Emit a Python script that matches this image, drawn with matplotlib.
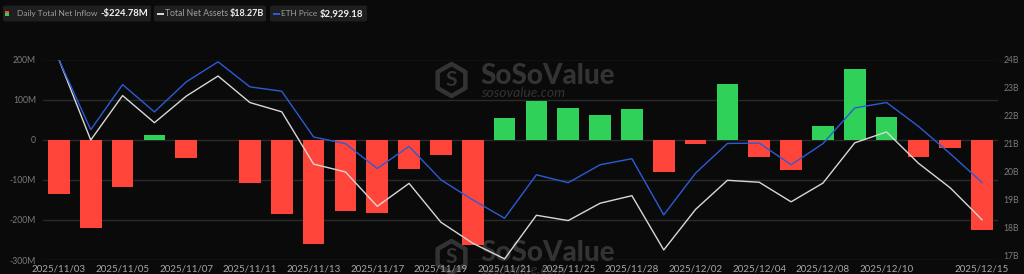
import matplotlib
matplotlib.use("Agg")
import matplotlib.pyplot as plt
from matplotlib.patches import FancyBboxPatch, Rectangle
import numpy as np

# ---------------- data ----------------
dates = ["2025/11/03", "2025/11/04", "2025/11/05", "2025/11/06", "2025/11/07",
         "2025/11/10", "2025/11/11", "2025/11/12", "2025/11/13", "2025/11/14",
         "2025/11/17", "2025/11/18", "2025/11/19", "2025/11/20", "2025/11/21",
         "2025/11/24", "2025/11/25", "2025/11/26", "2025/11/28", "2025/12/01",
         "2025/12/02", "2025/12/03", "2025/12/04", "2025/12/05", "2025/12/08",
         "2025/12/09", "2025/12/10", "2025/12/11", "2025/12/12", "2025/12/15"]
net_inflow_m = [-136, -219.6, -118, 12, -46, 0, -107, -184.6, -259.6, -178.8,
                -183.8, -73.8, -37.9, -262, 54.6, 96, 78, 60.4, 75.4, -79.6,
                -9.6, 139.6, -42, -75.4, 34.6, 177, 57, -42.9, -19.6, -224.78]
net_assets_b = [24.0, 21.12, 22.71, 21.74, 22.69, 23.41, 22.46, 22.13, 20.26, 19.98,
                18.75, 19.57, 18.18, 17.43, 16.87, 18.43, 18.24, 18.86, 19.13, 17.19,
                18.64, 19.68, 19.61, 18.91, 19.58, 21.02, 21.41, 20.29, 19.41, 18.27]
eth_price = [3516, 3182, 3398, 3267, 3411, 3507, 3387, 3366, 3147, 3115,
             2996, 3102, 2942, 2846, 2758, 2966, 2928, 3014, 3043, 2774,
             2974, 3116, 3118, 3014, 3115, 3286, 3312, 3198, 3067, 2929.18]
xtick_idx = [0, 2, 4, 6, 8, 10, 12, 14, 16, 18, 20, 22, 24, 26, 29]
left_ticks = [-300, -200, -100, 0, 100, 200]
left_labels = ["-300M", "-200M", "-100M", "0", "100M", "200M"]
right_ticks = [17, 18, 19, 20, 21, 22, 23, 24]
right_labels = ["17B", "18B", "19B", "20B", "21B", "22B", "23B", "24B"]
legend_items = [("Daily Total Net Inflow", "-$224.78M"),
                ("Total Net Assets", "$18.27B"),
                ("ETH Price", "$2,929.18")]

# ---------------- style ----------------
BG = "#0a0a0a"
RED = "#ff453a"
GREEN = "#30d158"
BLUE = "#2a5cd6"
WHITE = "#d8d8d8"
GRID = "#2a2a2a"
FONT = "Lato"

W, H = 1024, 274
fig = plt.figure(figsize=(W / 100, H / 100), dpi=100, facecolor=BG)
plt.rcParams["font.family"] = [FONT, "DejaVu Sans"]


def fx(px):
    return px / W


def fy(py):
    return 1 - py / H


ax_l, ax_r, ax_t, ax_b = 43, 998, 59.5, 260
pos = [fx(ax_l), fy(ax_b), fx(ax_r) - fx(ax_l), fy(ax_t) - fy(ax_b)]
ax = fig.add_axes(pos)
ax.set_facecolor("none")
x = np.arange(len(dates))

colors = [GREEN if v >= 0 else RED for v in net_inflow_m]
ax.bar(x, net_inflow_m, width=0.68, color=colors, zorder=2)
ax.set_xlim(-0.5, len(dates) - 0.5)
ax.set_ylim(-300, 200)
ax.set_yticks(left_ticks)
ax.set_yticklabels(left_labels)
ax.set_xticks(xtick_idx)
ax.set_xticklabels([dates[i] for i in xtick_idx])
ax.grid(axis="y", color=GRID, linewidth=1.0, zorder=0)
ax.set_axisbelow(True)
for s in ax.spines.values():
    s.set_visible(False)
ax.tick_params(axis="y", length=0, pad=5, labelsize=6.2, labelcolor="#7a7a7a")
ax.tick_params(axis="x", length=0, pad=3, labelsize=7, labelcolor="#a8a8a8")

# right axis: total net assets
ax2 = ax.twinx()
ax2.set_facecolor("none")
ax2.plot(x, net_assets_b, color=WHITE, linewidth=1.0, zorder=3)
ax2.set_ylim(16.83, 24.0)
ax2.set_yticks(right_ticks)
ax2.set_yticklabels(right_labels)
for s in ax2.spines.values():
    s.set_visible(False)
ax2.tick_params(axis="y", length=0, pad=4, labelsize=6.2, labelcolor="#7a7a7a")

# hidden axis: ETH price
ax3 = ax.twinx()
ax3.set_facecolor("none")
ax3.plot(x, eth_price, color=BLUE, linewidth=1.0, zorder=4)
ax3.set_ylim(2558, 3518)
ax3.set_yticks([])
for s in ax3.spines.values():
    s.set_visible(False)
ax3.set_xlim(-0.5, len(dates) - 0.5)

# ---------------- watermark ----------------
WM = "#333333"
for dy in (0, 177):
    cx, cy = 451.5, 80 + dy
    ang = np.deg2rad(np.arange(6) * 60 + 90)
    r = 16
    pts = [(fx(cx + r * np.cos(a)), fy(cy - r * np.sin(a))) for a in ang]
    poly = plt.Polygon(pts, closed=True, fill=False, edgecolor=WM, linewidth=3.2,
                       joinstyle="round", transform=fig.transFigure, zorder=-1)
    fig.add_artist(poly)
    fig.text(fx(cx), fy(cy), "S", color=WM, fontsize=15, fontweight="bold",
             ha="center", va="center", family=FONT, zorder=-1)
    fig.text(fx(480), fy(76 + dy), "SoSoValue", color=WM, fontsize=20,
             fontweight="black", ha="left", va="center", family=FONT, zorder=-1)
    fig.text(fx(481), fy(93 + dy), "sosovalue.com", color=WM, fontsize=10,
             style="italic", ha="left", va="center", family=FONT, zorder=-1)

# ---------------- legend boxes ----------------
renderer = fig.canvas.get_renderer()


def fit_text(s, x0, x1, yc, color, weight, base=8):
    t = fig.text(fx(x0), fy(yc), s, color=color, fontsize=base, fontweight=weight,
                 ha="left", va="center", family=FONT)
    w = t.get_window_extent(renderer).width
    t.set_fontsize(base * (x1 - x0) / w)
    return t


boxes = [(3, 151, 17, 98, 100, 148),
         (154, 266, 165, 228, 230, 264),
         (270, 367, 281, 317, 320, 364)]
yc = 13.5
for i, ((lbl, val), (b0, b1, t0, t1, v0, v1)) in enumerate(zip(legend_items, boxes)):
    box = FancyBboxPatch((fx(b0), fy(21.5)), fx(b1) - fx(b0), fy(5.5) - fy(21.5),
                         boxstyle="round,pad=0,rounding_size=0.004",
                         transform=fig.transFigure, facecolor="#1f1f1f",
                         edgecolor="none", zorder=1)
    fig.add_artist(box)
    if i == 0:
        fig.add_artist(Rectangle((fx(4.5), fy(13.5)), fx(4), fy(11) - fy(13.5),
                                 transform=fig.transFigure, facecolor=RED,
                                 edgecolor="none", zorder=2))
        fig.add_artist(Rectangle((fx(4.5), fy(16)), fx(4), fy(13.5) - fy(16),
                                 transform=fig.transFigure, facecolor=GREEN,
                                 edgecolor="none", zorder=2))
    else:
        c = WHITE if i == 1 else BLUE
        fig.add_artist(Rectangle((fx(b0 + 3), fy(14.8)), fx(7), fy(12.6) - fy(14.8),
                                 transform=fig.transFigure, facecolor=c,
                                 edgecolor="none", zorder=2))
    fit_text(lbl, t0, t1, yc, "#a0a0a0", "normal")
    fit_text(val, v0, v1, yc, "#f2f2f2", "bold")

fig.savefig("out.png", dpi=100, facecolor=BG)
